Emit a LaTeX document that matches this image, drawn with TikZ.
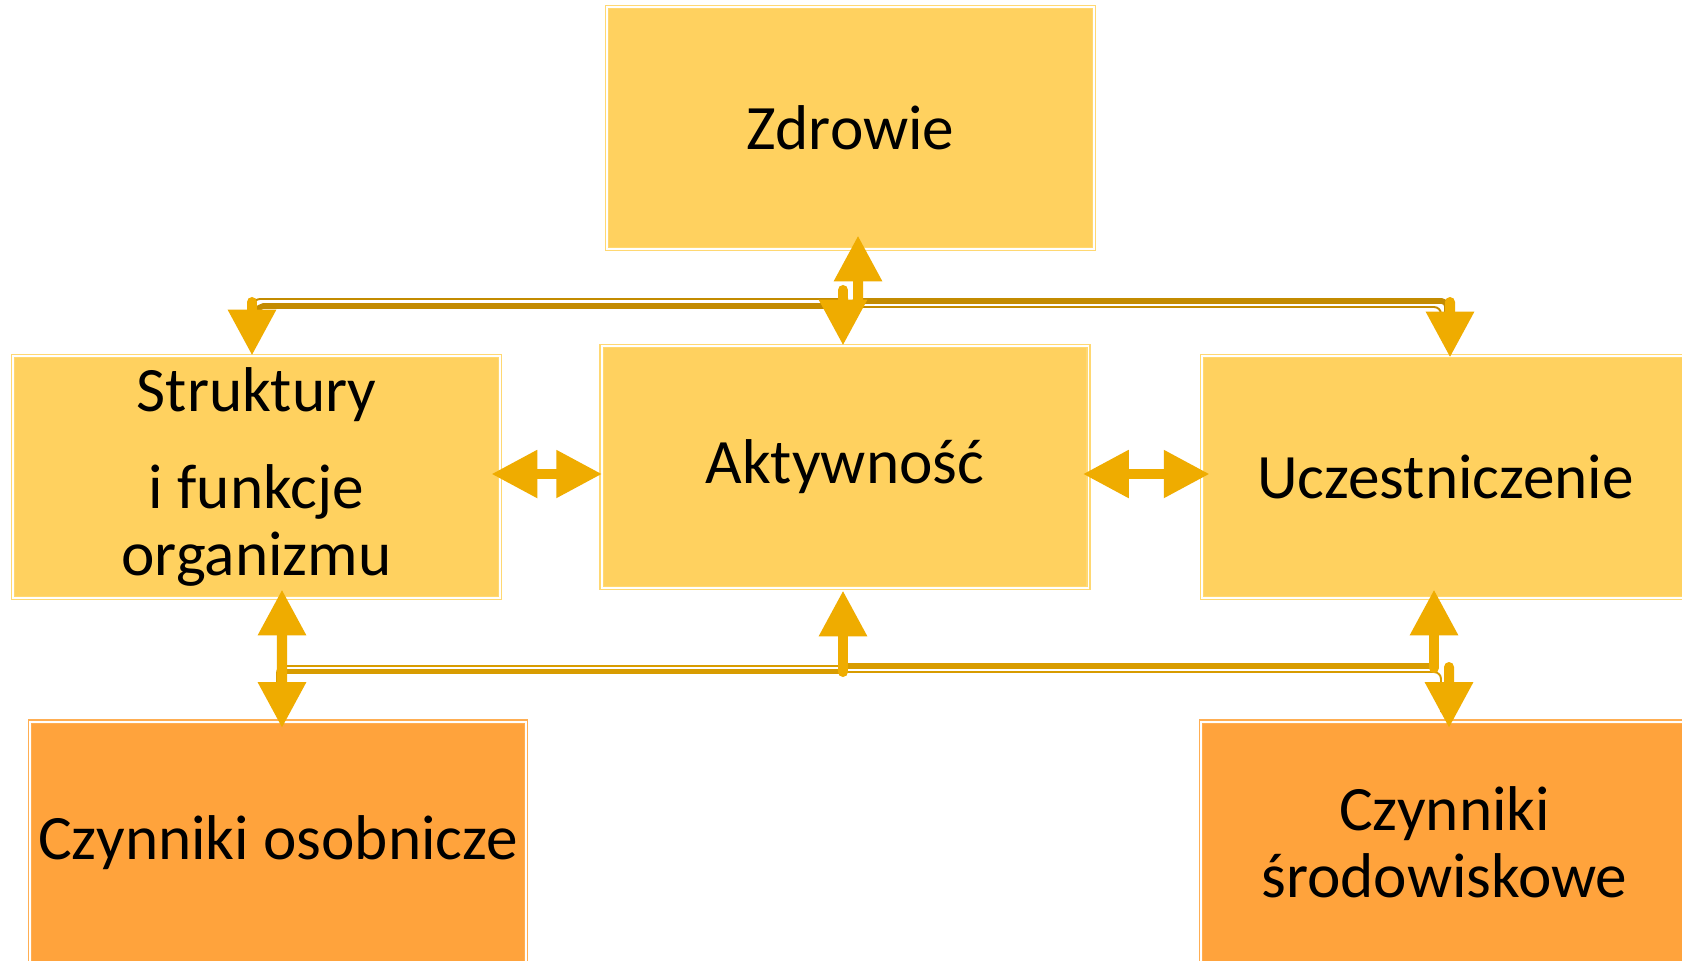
\documentclass[tikz,border=0pt]{standalone}
\usepackage{fontspec}
\setmainfont{Carlito}
\usetikzlibrary{arrows.meta,calc}
\definecolor{boxfill}{HTML}{FFD15F}
\definecolor{boxline}{HTML}{FFD872}
\definecolor{orfill}{HTML}{FFA33C}
\definecolor{orline}{HTML}{FFAE52}
\definecolor{arrc}{HTML}{EFAC00}
\definecolor{bartop}{HTML}{C38B00}
\definecolor{barbot}{HTML}{D89C00}
\begin{document}
\begin{tikzpicture}[x=0.02cm,y=-0.02cm,
  box/.style={rectangle, fill=boxfill, draw=boxline, line width=0.7pt, double=white, double distance=1.1pt,
    minimum width=9.74cm, minimum height=4.84cm, inner sep=0pt, align=center,
    font=\fontsize{36}{38}\selectfont, text=black},
  obox/.style={box, fill=orfill, draw=orline},
  onearrow/.style={-{Triangle[length=26pt,width=26pt]}, draw=arrc, line width=5.7pt, line cap=round},
  twoarrow/.style={{Triangle[length=26pt,width=26pt]}-{Triangle[length=26pt,width=26pt]}, draw=arrc, line width=5.4pt},
  thickbar/.style={line width=3.2pt, rounded corners=3pt, line cap=round},
  thinbar/.style={line width=1.1pt, rounded corners=4pt}
]
\fill[white] (0,0) rectangle (1682,960);
\useasboundingbox (0,0) rectangle (1682,960);

% boxes
\node[box] (Z) at (850.5,128) {Zdrowie};
\node[box] (S) at (256.5,477) {Struktury\\[17pt]i funkcje\\organizmu};
\node[box] (A) at (845,467) {Aktywność};
\node[box] (U) at (1445.5,477) {Uczestniczenie};
\node[obox, minimum width=9.92cm] (CO) at (278,842.5) {Czynniki osobnicze};
\node[obox] (CS) at (1444.5,842.5) {Czynniki\\środowiskowe};

% junction coordinates
\coordinate (tl1) at (852,306);
\coordinate (tl2) at (848,299);
\coordinate (tr1) at (855,301);
\coordinate (tr2) at (850,307);
\coordinate (bl1) at (843,671.5);
\coordinate (bl2) at (843,666);
\coordinate (br1) at (843,666);
\coordinate (br2) at (843,672);

% top bars
\draw[bartop, thickbar] (tl1) -- (258,306) -- (258,330);
\draw[bartop, thinbar] (tl2) -- (253,299) -- (253,335);
\draw[bartop, thickbar] (tr1) -- (1447,301) -- (1447,325);
\draw[bartop, thinbar] (tr2) -- (1441,307) -- (1441,335);

% bottom bars
\draw[barbot, thickbar] (bl1) -- (285,671.5);
\draw[barbot, thinbar] (bl2) -- (277,666) -- (277,710);
\draw[barbot, thickbar] (br1) -- (1434,666);
\draw[barbot, thinbar] (br2) -- (1441,672) -- (1441,712);

% top arrows
\coordinate (jz) at (858,302);
\coordinate (ja) at (843,290);
\coordinate (js) at (252,302);
\coordinate (ju) at (1450,302);
\draw[onearrow] (jz) -- ($(Z.south)+(7.5,-14)$);
\draw[onearrow] (ja) -- ($(A.north)+(-2,0)$);
\draw[onearrow] (js) -- ($(S.north)+(-4.5,0)$);
\draw[onearrow] (ju) -- ($(U.north)+(4.5,2)$);

% horizontal double arrows
\draw[twoarrow] ($(S.east)+(-9,-3)$) -- ($(A.west)+(1,7)$);
\draw[twoarrow] ($(A.east)+(-6,7)$) -- ($(U.west)+(8,-3)$);

% bottom arrows
\draw[twoarrow, line width=5.7pt] ($(S.south)+(25.5,-9)$) -- ($(CO.north)+(4,7)$);
\coordinate (ka) at (843,672);
\coordinate (ku) at (1434,668);
\coordinate (kc) at (1449,667);
\draw[onearrow] (ka) -- ($(A.south)+(-2,2)$);
\draw[onearrow] (ku) -- ($(U.south)+(-11.5,-9)$);
\draw[onearrow] (kc) -- ($(CS.north)+(4.5,7)$);
\end{tikzpicture}
\end{document}
